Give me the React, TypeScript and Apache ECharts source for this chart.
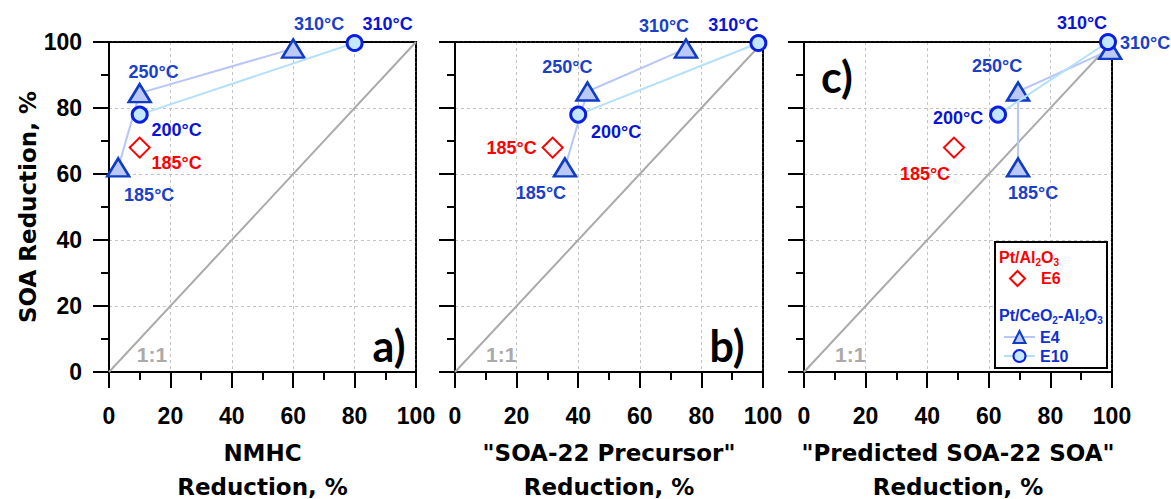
import React, { useEffect, useRef } from 'react';
import * as echarts from 'echarts';

// ---------- data ----------
const panelTags = ['a)', 'b)', 'c)'];
const xTitles = ['NMHC\nReduction, %', '"SOA-22 Precursor"\nReduction, %', '"Predicted SOA-22 SOA"\nReduction, %'];
const yTitle = 'SOA Reduction, %';
const e4Temps = ['185°C', '250°C', '310°C'];
const e10Temps = ['200°C', '310°C'];
const e6Temps = ['185°C'];
const e4Points = [
  [[3, 62], [10, 84.5], [60, 98]],
  [[35.7, 62], [43, 85], [75, 98]],
  [[69.5, 62], [69.5, 85], [99.4, 97.6]],
];
const e10Points = [
  [[10, 78], [80, 99.7]],
  [[40, 78], [98.5, 99.7]],
  [[63, 78], [98.7, 100]],
];
const e6Points = [[[10, 68]], [[31.7, 68]], [[48.7, 68]]];
const oneToOne = [[0, 0], [100, 100]];
const oneToOneTagAt = [[14, 5.2], [15, 5.2], [15, 5.2]];

// ---------- layout / style ----------
const e4LabelOffsets = [
  [[31, 28], [14, -21], [26, -25]],
  [[-24, 26], [-20, -25], [-22, -23]],
  [[15, 26], [-21, -26], [35, -7]],
];
const e10LabelOffsets = [
  [[37, 15], [33, -19]],
  [[38, 17], [-25, -18]],
  [[-40, 3], [-26, -19]],
];
const e6LabelOffsets = [[[37, 15]], [[-41, 0]], [[-29, 26]]];
const gridLefts = [109, 455, 804];
const gridWidths = [307, 308, 308];
const tagPos = [[389, 345], [727, 345], [837, 76]];

const SANS = 'Liberation Sans, Arial, sans-serif';
const WIDE = 'DejaVu Sans, Verdana, sans-serif';
const E4_TXT = '#1a40c8';
const E10_TXT = '#0a14d8';
const E6_TXT = '#ff0000';

function App() {
  const ref = useRef<HTMLDivElement>(null);
  useEffect(() => {
    if (!ref.current) return;
    const chart = echarts.init(ref.current, null, { renderer: 'svg' });

    const grid = gridLefts.map((l, i) => ({
      left: l, top: 42, width: gridWidths[i], height: 330,
      containLabel: false, outerBoundsMode: 'none',
    }));
    const tickStyle = { color: '#000', width: 2 };
    const splitStyle = { color: '#c4c4c4', width: 1, type: [3, 3] };
    const borderStyle = { color: '#000', width: 2, type: [3, 1.5] };

    const xAxis: any[] = [];
    const yAxis: any[] = [];
    for (let i = 0; i < 3; i++) {
      xAxis.push({
        type: 'value', gridIndex: i, min: 0, max: 100, interval: 20,
        axisLine: { show: true, onZero: false, lineStyle: tickStyle },
        axisTick: { show: true, length: 16, lineStyle: tickStyle },
        minorTick: { show: true, splitNumber: 2, length: 8, lineStyle: tickStyle },
        axisLabel: { fontSize: 23, fontWeight: 'bold', color: '#000', margin: 32, fontFamily: SANS },
        splitLine: { show: true, lineStyle: splitStyle },
        name: xTitles[i], nameLocation: 'middle', nameGap: 64,
        nameTextStyle: { fontSize: 23, fontWeight: 'bold', color: '#000', lineHeight: 34, fontFamily: WIDE },
      });
      yAxis.push({
        type: 'value', gridIndex: i, min: 0, max: 100, interval: 20,
        axisLine: { show: true, onZero: false, lineStyle: tickStyle },
        axisTick: { show: true, length: 16, lineStyle: tickStyle },
        minorTick: { show: true, splitNumber: 2, length: 8, lineStyle: tickStyle },
        axisLabel: { show: i === 0, fontSize: 23, fontWeight: 'bold', color: '#000', margin: 27, fontFamily: SANS },
        splitLine: { show: true, lineStyle: splitStyle },
        name: i === 0 ? yTitle : '', nameLocation: 'middle', nameGap: 70,
        nameTextStyle: { fontSize: 23, fontWeight: 'bold', color: '#000', fontFamily: WIDE },
      });
    }
    for (let i = 0; i < 3; i++) {
      xAxis.push({
        type: 'value', gridIndex: i, position: 'top', min: 0, max: 100,
        axisLine: { show: true, onZero: false, lineStyle: borderStyle },
        axisTick: { show: false }, axisLabel: { show: false }, splitLine: { show: false },
      });
      yAxis.push({
        type: 'value', gridIndex: i, position: 'right', min: 0, max: 100,
        axisLine: { show: true, onZero: false, lineStyle: borderStyle },
        axisTick: { show: false }, axisLabel: { show: false }, splitLine: { show: false },
      });
    }

    const lbl = (text: string, off: number[], color: string) => ({
      show: true, formatter: text, position: ['50%', '50%'], align: 'center', verticalAlign: 'middle', offset: off,
      color, fontSize: 18, fontWeight: 'bold', fontFamily: SANS,
      textBorderWidth: 0, opacity: 1,
    });

    const series: any[] = [];
    for (let i = 0; i < 3; i++) {
      series.push({
        type: 'line', xAxisIndex: i, yAxisIndex: i, data: oneToOne, symbol: 'none',
        lineStyle: { color: '#aaaaaa', width: 2 }, silent: true, z: 1,
        markPoint: {
          symbol: 'circle', symbolSize: 2, itemStyle: { color: 'rgba(0,0,0,0)' },
          label: {
            show: true, position: ['50%', '50%'], align: 'center', verticalAlign: 'middle', formatter: '1:1',
            color: '#aaaaaa', fontSize: 21, fontWeight: 'bold', fontFamily: SANS, textBorderWidth: 0,
          },
          data: [{ coord: oneToOneTagAt[i] }],
        },
      });
      series.push({
        name: 'E4', type: 'line', xAxisIndex: i, yAxisIndex: i,
        symbol: 'triangle', symbolSize: [22, 18],
        itemStyle: { color: '#bcc8f6', borderColor: '#0e3cc4', borderWidth: 2.5 },
        lineStyle: { color: '#b8c6f8', width: 2 },
        data: e4Points[i].map((p, j) => ({ value: p, label: lbl(e4Temps[j], e4LabelOffsets[i][j], E4_TXT) })),
        z: 3,
      });
      series.push({
        name: 'E10', type: 'line', xAxisIndex: i, yAxisIndex: i,
        symbol: 'circle', symbolSize: 15,
        itemStyle: { color: '#c2e8fa', borderColor: '#0a1ee6', borderWidth: 3 },
        lineStyle: { color: '#b4e0f8', width: 2 },
        data: e10Points[i].map((p, j) => ({ value: p, label: lbl(e10Temps[j], e10LabelOffsets[i][j], E10_TXT) })),
        z: 4,
      });
      series.push({
        name: 'E6', type: 'scatter', xAxisIndex: i, yAxisIndex: i,
        symbol: 'diamond', symbolSize: [20, 20], symbolKeepAspect: true,
        itemStyle: { color: '#ffffff', opacity: 1, borderColor: '#ff0000', borderWidth: 2 },
        data: e6Points[i].map((p, j) => ({ value: p, label: lbl(e6Temps[j], e6LabelOffsets[i][j], E6_TXT) })),
        z: 5,
      });
    }

    const rich = (color: string) => ({
      m: { fontSize: 16, fontWeight: 'bold', color, lineHeight: 20, fontFamily: SANS },
      s: { fontSize: 10, fontWeight: 'bold', color, lineHeight: 11, verticalAlign: 'bottom', fontFamily: SANS },
    });

    chart.setOption({
      animation: false,
      textStyle: { fontFamily: SANS },
      grid,
      xAxis,
      yAxis,
      series,
      title: [
        { text: '{m|Pt/Al}{s|2}{m|O}{s|3}', left: 999, top: 247, padding: 0, textStyle: { rich: rich('#ff0000') } },
        { text: '{m|Pt/CeO}{s|2}{m|-Al}{s|2}{m|O}{s|3}', left: 999, top: 305, padding: 0, textStyle: { rich: rich('#1030d0') } },
      ],
      legend: [
        {
          data: [{ name: 'E6', textStyle: { color: '#ff0000' } }],
          left: 1009, top: 270, padding: 0, itemWidth: 15, itemHeight: 15, selectedMode: false,
          textStyle: { fontSize: 16, fontWeight: 'bold', fontFamily: SANS, padding: [0, 0, 0, 11] },
        },
        {
          data: [{ name: 'E4', textStyle: { color: '#1030d0' } }, { name: 'E10', textStyle: { color: '#1030d0' } }],
          left: 1003, top: 329, padding: 0, orient: 'vertical', itemGap: 3, itemWidth: 31, itemHeight: 15, selectedMode: false,
          textStyle: { fontSize: 16, fontWeight: 'bold', fontFamily: SANS },
        },
      ],
      graphic: [
        { type: 'rect', z: 2, shape: { x: 995, y: 242, width: 112, height: 126 }, style: { fill: '#fff', stroke: '#000', lineWidth: 2 } },
        ...panelTags.map((t, i) => ({
          type: 'text', x: tagPos[i][0], y: tagPos[i][1], z: 10,
          style: { text: t, fill: '#000', font: 'bold 43px Lato, sans-serif', align: 'center', verticalAlign: 'middle' },
        })),
      ],
    });
    return () => chart.dispose();
  }, []);
  return <div ref={ref} style={{ position: 'fixed', left: 0, top: 0, width: 1171, height: 499, background: '#fff' }} />;
}

export default App;
